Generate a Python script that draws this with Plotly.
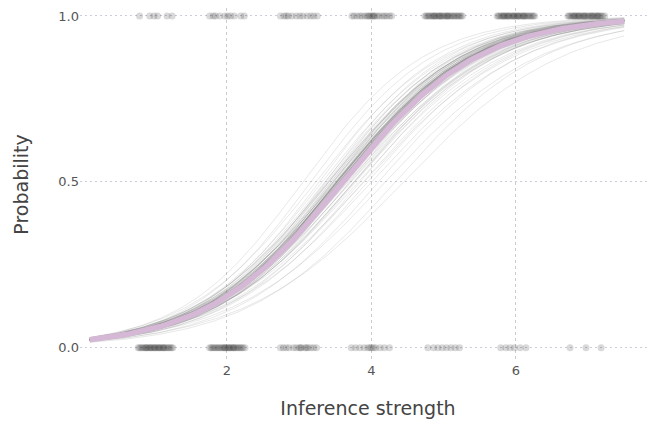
import numpy as np
import plotly.graph_objects as go

# Observed outcomes (jittered strength, outcome)
x_success = [0.79, 0.93, 0.99, 1.04, 1.17, 1.24,
             1.76, 1.81, 1.84, 1.90, 1.97, 2.01, 2.05, 2.10, 2.19, 2.24,
             2.74, 2.79, 2.82, 2.85, 2.90, 2.96, 3.01, 3.05, 3.11, 3.16, 3.20, 3.25,
             3.73, 3.76, 3.80, 3.84, 3.87, 3.91, 3.94, 3.96, 3.98, 4.00, 4.02, 4.03,
             4.05, 4.08, 4.11, 4.15, 4.18, 4.21, 4.25, 4.28,
             4.74, 4.76, 4.78, 4.80, 4.82, 4.84, 4.86, 4.88, 4.90, 4.92, 4.94, 4.96,
             4.98, 5.00, 5.02, 5.04, 5.06, 5.08, 5.10, 5.12, 5.14, 5.16, 5.18, 5.20,
             5.22, 5.24, 5.26, 4.95, 5.05, 4.87,
             5.74, 5.76, 5.78, 5.80, 5.82, 5.84, 5.86, 5.88, 5.90, 5.92, 5.94, 5.96,
             5.98, 6.00, 6.02, 6.04, 6.06, 6.08, 6.10, 6.12, 6.14, 6.16, 6.18, 6.20,
             6.22, 6.24, 6.26, 5.97, 6.03, 5.89, 6.11, 5.83,
             6.72, 6.74, 6.76, 6.78, 6.80, 6.82, 6.84, 6.86, 6.88, 6.90, 6.92, 6.94,
             6.96, 6.98, 7.00, 7.02, 7.04, 7.06, 7.08, 7.10, 7.12, 7.14, 7.16, 7.18,
             7.20, 7.23, 6.95, 7.05, 6.87, 7.13, 6.81]
x_failure = [0.77, 0.79, 0.81, 0.83, 0.85, 0.87, 0.89, 0.91, 0.93, 0.95, 0.97, 0.99,
             1.01, 1.03, 1.05, 1.07, 1.09, 1.11, 1.13, 1.15, 1.17, 1.19, 1.21, 1.23,
             1.25, 0.94, 1.06, 0.88, 1.12, 1.00,
             1.76, 1.78, 1.80, 1.82, 1.84, 1.86, 1.88, 1.90, 1.92, 1.94, 1.96, 1.98,
             2.00, 2.02, 2.04, 2.06, 2.08, 2.10, 2.12, 2.14, 2.16, 2.18, 2.20, 2.22,
             2.25, 1.97, 2.03, 2.09,
             2.74, 2.78, 2.82, 2.86, 2.92, 2.96, 3.00, 3.03, 3.08, 3.12, 3.16, 3.20,
             3.24, 3.02, 3.10,
             3.72, 3.78, 3.84, 3.90, 3.95, 3.98, 4.00, 4.03, 4.06, 4.12, 4.18, 4.25,
             4.78, 4.86, 4.92, 4.98, 5.04, 5.10, 5.16, 5.22,
             5.79, 5.86, 5.92, 5.98, 6.06, 6.14,
             6.75, 6.97, 7.18]

# Posterior draws of the logistic model: logit p = intercept + slope * x
draw_intercept = [-3.60, -3.70, -3.55, -3.80, -3.65, -3.90, -3.72, -3.60, -3.85, -3.75,
                  -3.95, -3.68, -3.80, -3.58, -4.00, -3.77, -3.70, -3.88, -3.62, -3.92,
                  -3.75, -3.83, -3.66, -4.05, -3.79, -3.71, -3.86, -3.60, -3.95, -3.78,
                  -3.68, -3.90, -3.82, -3.74, -4.00, -3.85, -3.70, -3.95, -3.80, -4.10,
                  -3.90, -4.20, -4.00, -3.64, -3.73, -3.84, -3.69, -3.81, -3.76, -3.93,
                  -3.58, -3.87, -3.66, -3.79, -3.72, -3.97, -3.63, -3.89, -3.74, -3.82,
                  -3.80, -3.82, -3.78, -3.84, -3.75, -3.87, -3.81, -3.79, -3.83, -3.77,
                  -3.85, -3.74, -3.82, -3.80, -3.88, -3.76, -3.81, -3.83, -3.79, -3.86]
draw_slope = [1.18, 1.17, 1.10, 1.16, 1.10, 1.16, 1.10, 1.06, 1.13, 1.09,
              1.14, 1.06, 1.09, 1.02, 1.14, 1.07, 1.05, 1.10, 1.02, 1.10,
              1.05, 1.07, 1.02, 1.12, 1.05, 1.02, 1.06, 0.98, 1.07, 1.02,
              0.99, 1.04, 1.01, 0.98, 1.04, 0.99, 0.95, 1.00, 0.95, 1.00,
              0.93, 0.97, 0.90, 1.04, 1.03, 1.08, 1.08, 1.04, 1.00, 1.12,
              1.05, 1.03, 1.09, 1.10, 1.06, 1.09, 1.00, 1.12, 1.08, 1.06,
              1.07, 1.08, 1.06, 1.09, 1.05, 1.08, 1.07, 1.06, 1.09, 1.07,
              1.08, 1.06, 1.07, 1.05, 1.09, 1.06, 1.08, 1.07, 1.06, 1.09]
mean_intercept = -3.82
mean_slope = 1.06

x_min, x_max = 0.1, 7.5

xs = np.linspace(x_min, x_max, 150)


def logistic(a, b):
    return 1.0 / (1.0 + np.exp(-(a + b * xs)))


fig = go.Figure()

for a, b in zip(draw_intercept, draw_slope):
    fig.add_trace(go.Scatter(x=xs, y=logistic(a, b), mode="lines",
                             line=dict(color="rgba(115,115,115,0.16)", width=1),
                             hoverinfo="skip", showlegend=False))

fig.add_trace(go.Scatter(x=xs, y=logistic(mean_intercept, mean_slope), mode="lines",
                         line=dict(color="#d5b7d6", width=5.5),
                         showlegend=False))

marker_style = dict(color="rgba(55,55,55,0.19)", size=7, line=dict(width=0))
fig.add_trace(go.Scatter(x=x_success, y=[1.0] * len(x_success), mode="markers",
                         marker=marker_style, cliponaxis=False, showlegend=False))
fig.add_trace(go.Scatter(x=x_failure, y=[0.0] * len(x_failure), mode="markers",
                         marker=marker_style, cliponaxis=False, showlegend=False))

font_family = "DejaVu Sans"
fig.update_layout(
    width=648, height=413,
    margin=dict(l=72, r=0, t=0, b=60),
    paper_bgcolor="white", plot_bgcolor="white",
    font=dict(family=font_family, color="#555555", size=13),
    showlegend=False,
)
fig.update_xaxes(
    range=[-0.035, 7.94], tickvals=[2, 4, 6], ticktext=["2", "4", "6"],
    showgrid=True, gridcolor="#cccccc", griddash="3px,3px", gridwidth=1,
    zeroline=False, showline=False, ticks="",
    tickfont=dict(size=13, color="#555555"),
    title=dict(text="Inference strength", font=dict(size=19, color="#444444"), standoff=24),
)
fig.update_yaxes(
    range=[-0.04, 1.024], tickvals=[0, 0.5, 1.0], ticktext=["0.0", "0.5", "1.0"],
    showgrid=True, gridcolor="#cbcbd9", griddash="2px,3px", gridwidth=1,
    zeroline=False, showline=False, ticks="",
    tickfont=dict(size=13, color="#555555"),
    title=dict(text="Probability", font=dict(size=19, color="#444444"), standoff=24),
)

fig.write_html("out.html")
